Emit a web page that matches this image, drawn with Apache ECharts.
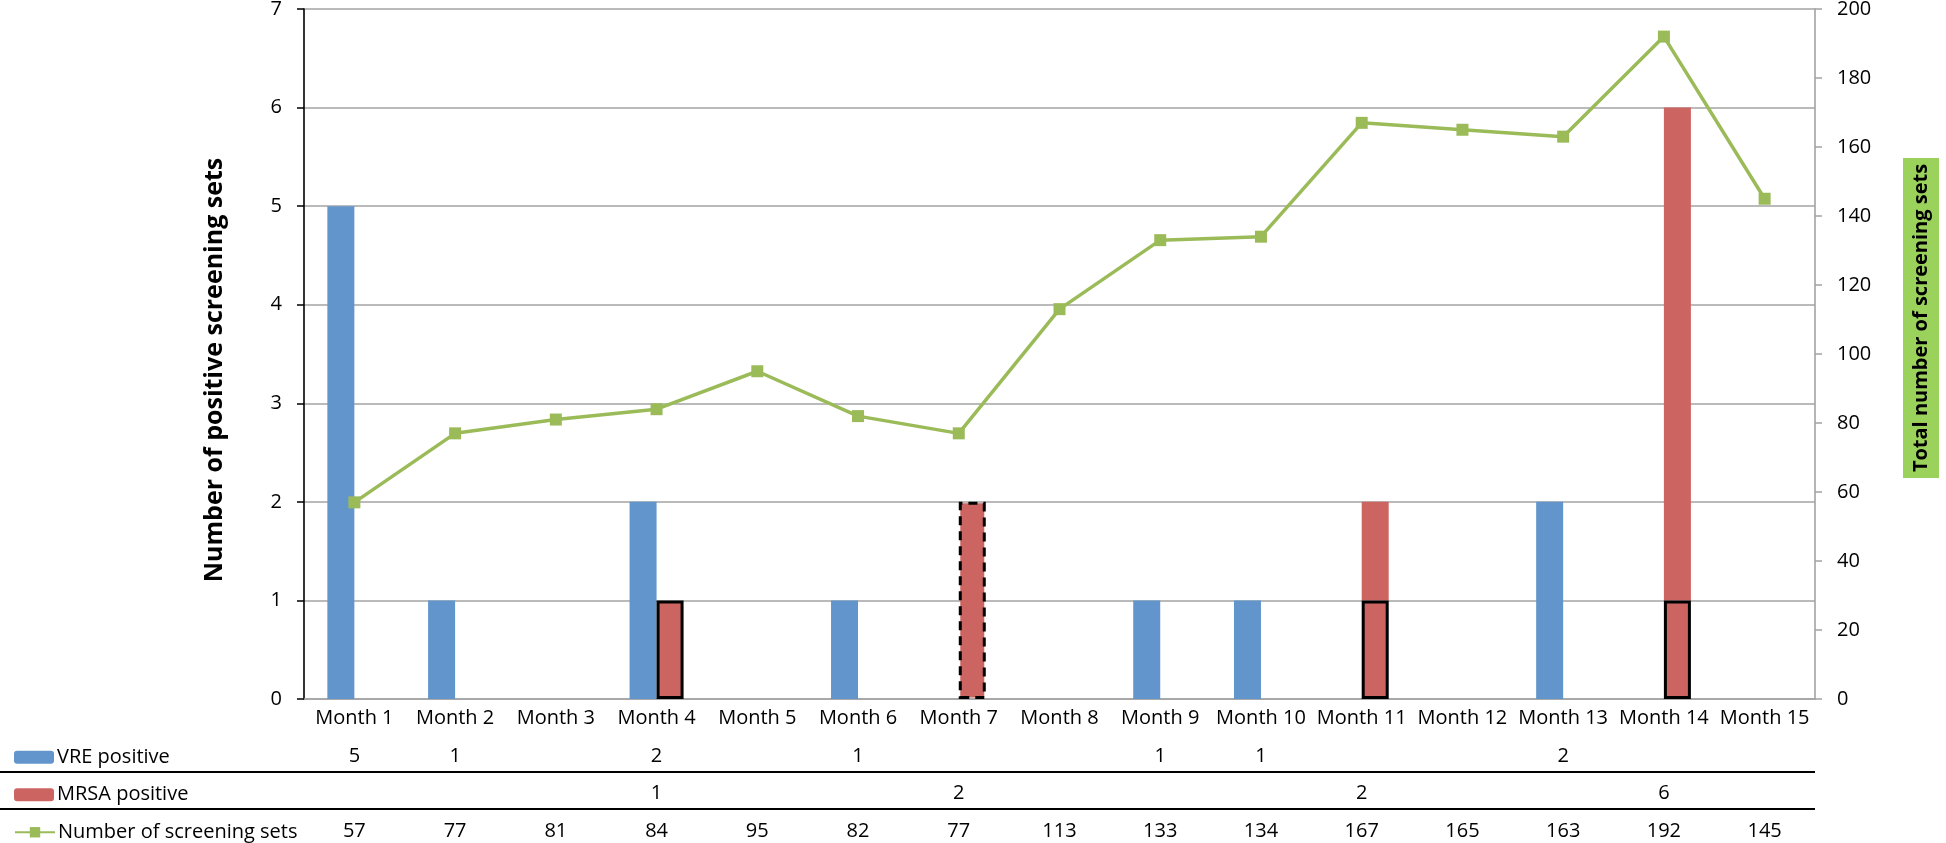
<!DOCTYPE html>
<html><head><meta charset="utf-8">
<script src="https://cdn.jsdelivr.net/npm/echarts@6/dist/echarts.min.js"></script>
<style>html,body{margin:0;padding:0;background:#fff}#c{width:1946px;height:843px}</style>
</head><body><div id="c"></div>
<script>
// ---- data ----
const months = ['Month 1','Month 2','Month 3','Month 4','Month 5','Month 6','Month 7','Month 8','Month 9','Month 10','Month 11','Month 12','Month 13','Month 14','Month 15'];
const vrePositive   = [5, 1, null, 2, null, 1, null, null, 1, 1, null, null, 2, null, null];
const mrsaPositive  = [null, null, null, 1, null, null, 2, null, null, null, 2, null, null, 6, null];
// portion of each MRSA bar that is outlined in the original figure
const mrsaOutlined  = [null, null, null, 1, null, null, 2, null, null, null, 1, null, null, 1, null];
const screeningSets = [57, 77, 81, 84, 95, 82, 77, 113, 133, 134, 167, 165, 163, 192, 145];
const leftAxisTicks  = [0, 1, 2, 3, 4, 5, 6, 7];
const rightAxisTicks = [0, 20, 40, 60, 80, 100, 120, 140, 160, 180, 200];
const seriesNames = ['VRE positive', 'MRSA positive', 'Number of screening sets'];
const leftTitle = 'Number of positive screening sets';
const rightTitle = 'Total number of screening sets';

// ---- styling config ----
const dashedOutlineMonths = ['Month 7'];
const FONT = "'Open Sans', sans-serif";
const C_VRE = '#6195CB', C_MRSA = '#CC6561', C_LINE = '#9BBB59', C_GRID = '#A3A3A3', C_TITLE_BG = '#9BD25B';
const GRID = {left: 304, right: 131, top: 9, bottom: 144};
const W = 1946, H = 843;
const zeroY = H - GRID.bottom;
const ROW = 37.5;
const LABEL_MARGIN = 1;
const rowCenter = k => zeroY + LABEL_MARGIN + ROW / 2 + k * ROW;

const mrsaRest = mrsaPositive.map((v, i) => (v == null ? null : (v - (mrsaOutlined[i] || 0)) || null));
const mrsaOutlinedData = mrsaOutlined.map((v, i) => v == null ? null : ({
  value: v,
  itemStyle: {
    borderColor: '#000', borderWidth: 3,
    borderType: dashedOutlineMonths.includes(months[i]) ? [9, 6] : 'solid'
  }
}));

const legendBase = {
  orient: 'vertical', left: 9, itemWidth: 40, itemHeight: 13, selectedMode: false,
  textStyle: {fontSize: 20, color: '#000', fontFamily: FONT, lineHeight: 20, padding: [0, 0, 0, -2]}
};

const chart = echarts.init(document.getElementById('c'), null, {renderer: 'canvas'});
chart.setOption({
  backgroundColor: '#fff',
  animation: false,
  textStyle: {fontFamily: FONT},
  grid: Object.assign({outerBoundsMode: 'none', containLabel: false}, GRID),
  legend: seriesNames.map((n, k) => Object.assign({}, legendBase, {data: [n], top: rowCenter(k + 1) - 14})),
  xAxis: {
    type: 'category', data: months,
    axisLine: {lineStyle: {color: C_GRID, width: 1.6}},
    axisTick: {show: false},
    axisLabel: {
      interval: 0, color: '#000', fontSize: 20, fontFamily: FONT, margin: LABEL_MARGIN, lineHeight: ROW,
      formatter: (v, i) => [v, vrePositive[i] ?? ' ', mrsaPositive[i] ?? ' ', screeningSets[i]].join('\n')
    }
  },
  yAxis: [{
    type: 'value', min: leftAxisTicks[0], max: leftAxisTicks[leftAxisTicks.length - 1], interval: leftAxisTicks[1] - leftAxisTicks[0],
    name: leftTitle, nameLocation: 'middle', nameGap: 77,
    nameTextStyle: {fontSize: 25, fontWeight: 'bold', color: '#000', fontFamily: FONT, padding: [0, 32, 0, 0]},
    axisLine: {show: true, lineStyle: {color: '#000', width: 1.6}},
    axisTick: {show: true, length: 7, lineStyle: {color: '#000', width: 1.5}},
    axisLabel: {color: '#000', fontSize: 20, fontFamily: FONT, margin: 22},
    splitLine: {lineStyle: {color: C_GRID, width: 1.6}}
  }, {
    type: 'value', position: 'right', min: rightAxisTicks[0], max: rightAxisTicks[rightAxisTicks.length - 1], interval: rightAxisTicks[1] - rightAxisTicks[0],
    axisLine: {show: true, lineStyle: {color: C_GRID, width: 1.6}},
    axisTick: {show: true, length: 7, lineStyle: {color: C_GRID, width: 1.5}},
    axisLabel: {color: '#000', fontSize: 20, fontFamily: FONT, margin: 22},
    splitLine: {show: false}
  }],
  series: [{
    name: seriesNames[0], type: 'bar', yAxisIndex: 0, data: vrePositive,
    barWidth: 27, barGap: '0%', itemStyle: {color: C_VRE}
  }, {
    name: 'MRSA outlined', type: 'bar', yAxisIndex: 0, stack: 'mrsa', data: mrsaOutlinedData,
    barWidth: 27, barGap: '0%', z: 4, itemStyle: {color: C_MRSA}
  }, {
    name: seriesNames[1], type: 'bar', yAxisIndex: 0, stack: 'mrsa', data: mrsaRest,
    barWidth: 27, barGap: '0%', itemStyle: {color: C_MRSA}
  }, {
    name: seriesNames[2], type: 'line', yAxisIndex: 1, data: screeningSets,
    symbol: 'rect', symbolSize: 12, z: 5,
    lineStyle: {color: C_LINE, width: 3.5}, itemStyle: {color: C_LINE}
  }],
  graphic: [
    {type: 'line', shape: {x1: 0, y1: 772, x2: W - GRID.right, y2: 772}, style: {stroke: '#000', lineWidth: 2}},
    {type: 'line', shape: {x1: 0, y1: 809, x2: W - GRID.right, y2: 809}, style: {stroke: '#000', lineWidth: 2}},
    {type: 'text', x: 1921, y: 318, rotation: Math.PI / 2,
     style: {text: rightTitle, font: "bold 20px 'Open Sans', sans-serif", fill: '#000', align: 'center', verticalAlign: 'middle',
             backgroundColor: C_TITLE_BG, padding: [8, 6, 8, 6]}}
  ]
});
</script></body></html>
